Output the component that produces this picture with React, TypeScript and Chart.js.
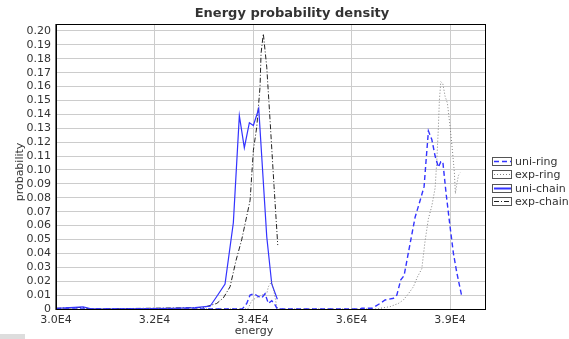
import { useEffect, useRef } from "react";
import { Chart, registerables } from "chart.js";

Chart.register(...registerables);

const X_TICK_VALUES = [30000, 32250, 34500, 36750, 39000];
const X_TICK_LABELS = ["3.0E4", "3.2E4", "3.4E4", "3.6E4", "3.9E4"];
const Y_TICK_VALUES = [0, 0.01, 0.02, 0.03, 0.04, 0.05, 0.06, 0.07, 0.08, 0.09, 0.1, 0.11, 0.12, 0.13, 0.14, 0.15, 0.16, 0.17, 0.18, 0.19, 0.2];
const Y_TICK_LABELS = ["0", "0.01", "0.02", "0.03", "0.04", "0.05", "0.06", "0.07", "0.08", "0.09", "0.10", "0.11", "0.12", "0.13", "0.14", "0.15", "0.16", "0.17", "0.18", "0.19", "0.20"];

const SERIES_NAMES = ["uni-ring", "exp-ring", "uni-chain", "exp-chain"];

const UNI_RING_E = [30000, 34250, 34279, 34356, 34432, 34523, 34621, 34699, 34774, 34850, 34927, 35002, 35055, 36950, 36983, 37212, 37401, 37515, 37705, 37783, 37874, 37949, 38086, 38201, 38315, 38406, 38452, 38505, 38582, 38658, 38733, 38788, 38834, 38909, 39000, 39076, 39154, 39268];
const UNI_RING_P = [0, 0, 0.001, 0.004, 0.01, 0.011, 0.009, 0.008, 0.011, 0.004, 0.006, 0.003, 0, 0, 0.0005, 0.0005, 0.004, 0.0065, 0.0077, 0.01, 0.021, 0.024, 0.047, 0.066, 0.078, 0.088, 0.107, 0.128, 0.122, 0.11, 0.102, 0.106, 0.106, 0.083, 0.059, 0.04, 0.026, 0.009];

const EXP_RING_E = [30000, 34380, 34470, 34569, 34699, 34813, 34850, 34927, 34980, 35041, 35071, 37350, 37401, 37630, 37819, 37933, 38048, 38162, 38253, 38354, 38429, 38505, 38582, 38658, 38697, 38733, 38755, 38788, 38834, 38886, 38939, 39000, 39053, 39098, 39121, 39154, 39190, 39229];
const EXP_RING_P = [0, 0, 0.006, 0.008, 0.01, 0.011, 0.016, 0.02, 0.012, 0.002, 0, 0, 0.0005, 0.0017, 0.004, 0.0065, 0.011, 0.016, 0.023, 0.029, 0.049, 0.065, 0.074, 0.087, 0.107, 0.131, 0.15, 0.1635, 0.162, 0.153, 0.148, 0.131, 0.114, 0.098, 0.083, 0.09, 0.096, 0.098];

const UNI_CHAIN_E = [30000, 30320, 30617, 30777, 31005, 32673, 33175, 33518, 33671, 33860, 34050, 34187, 34301, 34416, 34507, 34630, 34813, 34927, 35055];
const UNI_CHAIN_P = [0.0005, 0.001, 0.0015, 0.0003, 0, 0.0005, 0.001, 0.002, 0.009, 0.018, 0.062, 0.139, 0.116, 0.134, 0.132, 0.144, 0.052, 0.018, 0.007];

const EXP_CHAIN_E = [30000, 30320, 30617, 30777, 33358, 33671, 33822, 33975, 34112, 34242, 34432, 34507, 34585, 34660, 34683, 34735, 34813, 34888, 34980, 35064];
const EXP_CHAIN_P = [0.0005, 0.0008, 0.0012, 0, 0.001, 0.004, 0.008, 0.016, 0.035, 0.05, 0.078, 0.114, 0.131, 0.16, 0.184, 0.198, 0.174, 0.136, 0.088, 0.046];

const BLUE = "rgb(51,51,255)";
const STYLES = [
  { color: BLUE, dash: [5, 3], width: 1.4 },
  { color: "#808080", dash: [1, 2], width: 1 },
  { color: BLUE, dash: [] as number[], width: 1.2 },
  { color: "#222222", dash: [5, 2, 1, 2], width: 1 },
];

const FONT = '"DejaVu Sans", sans-serif';

function pts(e: number[], p: number[]) {
  return e.map((x, i) => ({ x, y: p[i] }));
}

const decor = {
  id: "decor",
  afterDraw(chart: any) {
    const ctx = chart.ctx as CanvasRenderingContext2D;
    const a = chart.chartArea;
    ctx.save();
    // plot border
    ctx.strokeStyle = "#000";
    ctx.lineWidth = 1;
    ctx.setLineDash([]);
    ctx.strokeRect(Math.round(a.left) + 0.5, Math.round(a.top) + 0.5, Math.round(a.right - a.left) - 1, Math.round(a.bottom - a.top));
    ctx.strokeStyle = "#666";
    ctx.beginPath();
    ctx.moveTo(Math.round(a.left) - 0.5, Math.round(a.top));
    ctx.lineTo(Math.round(a.left) - 0.5, Math.round(a.bottom) + 1);
    ctx.stroke();
    // title
    ctx.fillStyle = "#333";
    ctx.font = "bold 13px " + FONT;
    ctx.textAlign = "center";
    ctx.textBaseline = "middle";
    ctx.fillText("Energy probability density", 292, 14);
    // axis titles
    ctx.font = "11px " + FONT;
    ctx.fillStyle = "#333";
    ctx.fillText("energy", 254, 331);
    ctx.save();
    ctx.translate(20, 172);
    ctx.rotate(-Math.PI / 2);
    ctx.fillText("probability", 0, 0);
    ctx.restore();
    // legend
    const lx = 492;
    const ly = 157;
    const pitch = 13.4;
    ctx.textAlign = "left";
    for (let i = 0; i < SERIES_NAMES.length; i++) {
      const y = Math.round(ly + i * pitch);
      ctx.fillStyle = "#fff";
      ctx.fillRect(lx, y, 20, 9);
      ctx.strokeStyle = "#555";
      ctx.lineWidth = 1;
      ctx.setLineDash([]);
      ctx.strokeRect(lx + 0.5, y + 0.5, 19, 8);
      const s = STYLES[i];
      ctx.strokeStyle = s.color;
      ctx.lineWidth = i === 2 ? 2 : s.width;
      ctx.setLineDash(s.dash);
      ctx.beginPath();
      ctx.moveTo(lx + 2, y + 4.5);
      ctx.lineTo(lx + 19, y + 4.5);
      ctx.stroke();
      ctx.setLineDash([]);
      ctx.fillStyle = "#333";
      ctx.fillText(SERIES_NAMES[i], lx + 23, y + 5);
    }
    // small gray bar bottom-left
    ctx.fillStyle = "#dddddd";
    ctx.fillRect(0, 334, 25, 5);
    ctx.restore();
  },
};

export default function App() {
  const ref = useRef<HTMLCanvasElement>(null);
  useEffect(() => {
    const series = [
      pts(UNI_RING_E, UNI_RING_P),
      pts(EXP_RING_E, EXP_RING_P),
      pts(UNI_CHAIN_E, UNI_CHAIN_P),
      pts(EXP_CHAIN_E, EXP_CHAIN_P),
    ];
    const chart = new Chart(ref.current as HTMLCanvasElement, {
      type: "line",
      data: {
        datasets: series.map((d, i) => ({
          label: SERIES_NAMES[i],
          data: d,
          borderColor: STYLES[i].color,
          borderWidth: STYLES[i].width,
          borderDash: STYLES[i].dash,
          pointRadius: 0,
          fill: false,
          tension: 0,
        })),
      },
      options: {
        responsive: false,
        animation: false,
        devicePixelRatio: 1,
        layout: { padding: { top: 24, right: 83, left: 0, bottom: 0 } },
        plugins: {
          legend: { display: false },
          title: { display: false },
          tooltip: { enabled: false },
        },
        scales: {
          x: {
            type: "linear",
            min: 30000,
            max: 39820,
            afterBuildTicks: (s: any) => {
              s.ticks = X_TICK_VALUES.map((v) => ({ value: v }));
            },
            afterFit: (s: any) => {
              s.height = 30;
            },
            ticks: {
              autoSkip: false,
              maxRotation: 0,
              padding: 5,
              color: "#333",
              font: { family: FONT, size: 11 },
              callback: (v: any) => X_TICK_LABELS[X_TICK_VALUES.indexOf(Number(v))],
            },
            grid: { color: "#cccccc", drawTicks: false, lineWidth: 1 },
            border: { display: false },
          },
          y: {
            type: "linear",
            min: 0,
            max: 0.205,
            afterBuildTicks: (s: any) => {
              s.ticks = Y_TICK_VALUES.map((v) => ({ value: v }));
            },
            afterFit: (s: any) => {
              s.width = 56;
            },
            ticks: {
              autoSkip: false,
              padding: 5,
              color: "#333",
              font: { family: FONT, size: 11 },
              callback: (v: any) => {
                const idx = Y_TICK_VALUES.findIndex((t) => Math.abs(t - Number(v)) < 1e-9);
                return idx >= 0 ? Y_TICK_LABELS[idx] : "";
              },
            },
            grid: { color: "#cccccc", drawTicks: false, lineWidth: 1 },
            border: { display: false },
          },
        },
      },
      plugins: [decor],
    });
    return () => chart.destroy();
  }, []);
  return (
    <canvas
      ref={ref}
      width={569}
      height={339}
      style={{ position: "absolute", left: 0, top: 0, width: 569, height: 339 }}
    />
  );
}
